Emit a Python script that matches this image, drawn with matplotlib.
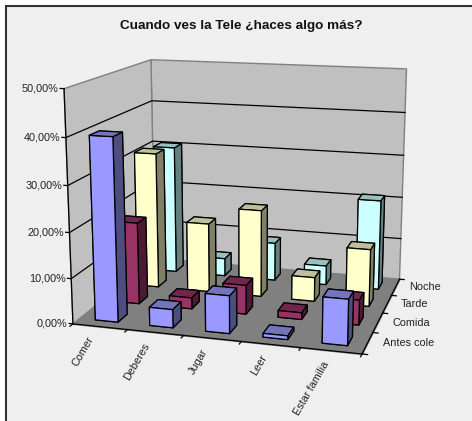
import matplotlib
matplotlib.use("Agg")
import matplotlib.pyplot as plt
from matplotlib.patches import Rectangle
from mpl_toolkits.mplot3d.art3d import Poly3DCollection
from mpl_toolkits.mplot3d import proj3d

plt.rcParams["font.family"] = ["Liberation Sans", "DejaVu Sans"]

categories = ["Comer", "Deberes", "Jugar", "Leer", "Estar familia"]
series_names = ["Antes cole", "Comida", "Tarde", "Noche"]
z_ticks = [0, 10, 20, 30, 40, 50]
z_labels = ["0,00%", "10,00%", "20,00%", "30,00%", "40,00%", "50,00%"]

antes_cole = [40.0, 4.0, 8.2, 0.8, 9.8]
comida = [18.5, 2.5, 6.5, 1.5, 5.5]
tarde = [31.5, 16.0, 20.0, 5.5, 13.0]
noche = [30.5, 4.2, 9.0, 4.5, 21.0]
series_values = [antes_cole, comida, tarde, noche]

# front, side, top colours for each series
front_cols = ["#9999FF", "#993366", "#FFFFCC", "#CCFFFF"]
side_cols = ["#4D4D80", "#4D1A33", "#808066", "#668080"]
top_cols = ["#7373BF", "#73264D", "#BFBF99", "#99BFBF"]

nx = len(categories)
ny = len(series_names)
zmax = z_ticks[-1]

fig = plt.figure(figsize=(4.72, 4.21), dpi=100, facecolor="white")
fig.patches.append(Rectangle((6 / 472, -0.01), 1, 1 - 6 / 421 + 0.01, transform=fig.transFigure,
                             facecolor="#EFEFEF", edgecolor="#333333", linewidth=1.5, zorder=-1))

ax = fig.add_axes([4 / 472, 13 / 421, 1, 1], projection="3d")
ax.patch.set_visible(False)
ax.set_axis_off()
ax.computed_zorder = False
ax.set_proj_type("persp", focal_length=0.5)
ax.view_init(elev=13.6, azim=-74)
ax.set_box_aspect((5, 4.0, 4.05), zoom=0.985)
ax.set_xlim(0, nx)
ax.set_ylim(0, ny)
ax.set_zlim(0, zmax)


def label3d(x, y, z, s, **kw):
    # Text3D ignores rotation, so project the anchor and place a 2D text
    px, py, _ = proj3d.proj_transform(x, y, z, ax.get_proj())
    ax.text2D(px, py, s, transform=ax.transData, fontsize=7.8, color="#222222", zorder=3, **kw)


# walls and floor
walls = [
    [(0, 0, 0), (0, ny, 0), (0, ny, zmax), (0, 0, zmax)],
    [(0, ny, 0), (nx, ny, 0), (nx, ny, zmax), (0, ny, zmax)],
]
ax.add_collection3d(Poly3DCollection(walls, facecolors="#C0C0C0", edgecolors="#808080", linewidths=1, zorder=1))
ax.add_collection3d(Poly3DCollection([[(0, 0, 0), (nx, 0, 0), (nx, ny, 0), (0, ny, 0)]],
                                     facecolors="#808080", edgecolors="#808080", linewidths=1, zorder=1))

# horizontal grid and z ticks
for z, lab in zip(z_ticks, z_labels):
    if 0 < z < zmax:
        ax.plot([0, 0, nx], [0, ny, ny], [z, z, z], color="black", lw=0.9, zorder=2)
    ax.plot([-0.07, 0], [0, 0], [z, z], color="black", lw=0.9, zorder=2)
    label3d(-0.1, 0, z, lab, ha="right", va="center")

# axis edges
ax.plot([0, 0], [0, 0], [0, zmax], color="black", lw=0.9, zorder=2)
ax.plot([0, nx, nx], [0, 0, ny], [0, 0, 0], color="black", lw=0.9, zorder=2)

for i in range(nx + 1):
    ax.plot([i, i], [0, -0.12], [0, 0], color="black", lw=0.9, zorder=2)
for j in range(ny + 1):
    ax.plot([nx, nx + 0.09], [j, j], [0, 0], color="black", lw=0.9, zorder=2)

for i, lab in enumerate(categories):
    label3d(i + 0.44, -0.42, 0, lab, rotation=60, rotation_mode="anchor", ha="right", va="top")
for j, lab in enumerate(series_names):
    label3d(nx + 0.24, j + 0.55, 0, lab, ha="left", va="center")

# bars, painted from the back row forward
bar_w = 0.42
bar_d = 0.42
zo = 4
for j in range(ny - 1, -1, -1):
    for i in range(nx):
        # bar3d face order: bottom, top, front, back, left, right
        faces = [side_cols[j], top_cols[j], front_cols[j], side_cols[j], side_cols[j], side_cols[j]]
        ax.bar3d(i + (1 - bar_w) / 2, j + (1 - bar_d) / 2, 0, bar_w, bar_d, series_values[j][i],
                 color=faces, edgecolor="black", linewidth=0.9, shade=False, zorder=zo)
        zo += 1

fig.text(241.5 / 472, 1 - 26 / 421, "Cuando ves la Tele ¿haces algo más?", ha="center", va="center",
         fontsize=9.7, fontweight="bold", color="#111111")

fig.savefig("out.png", dpi=100)
